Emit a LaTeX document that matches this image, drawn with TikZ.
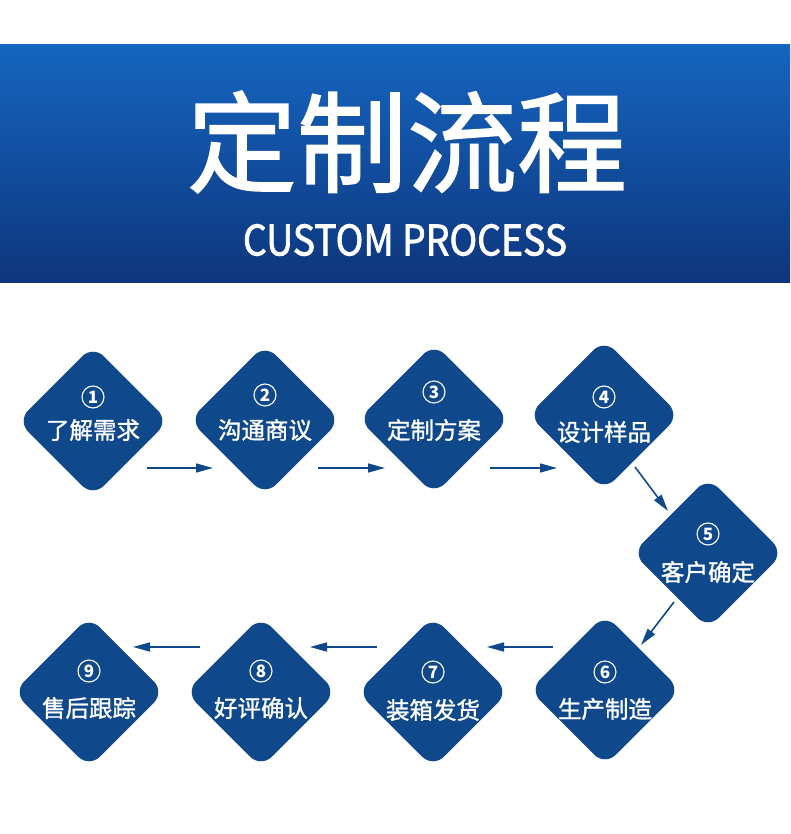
\documentclass[tikz,border=0pt]{standalone}
\usepackage{fontspec}
\usetikzlibrary{arrows.meta,shapes.geometric}
\newfontfamily\cjk{Noto Sans CJK SC}
\newfontfamily\cjkm[FakeBold=1.2]{Noto Sans CJK SC}
\newfontfamily\cjkt[FakeBold=1.3]{Noto Sans CJK SC}
\newfontfamily\cjks[FakeBold=1.8]{Noto Sans CJK SC}
\definecolor{dblue}{RGB}{15,73,140}
\definecolor{btop}{RGB}{21,101,192}
\definecolor{bbot}{RGB}{14,54,125}
\begin{document}
\begin{tikzpicture}[x=1pt,y=-1pt,
  dia/.style={shape=diamond, fill=dblue, draw=none, minimum width=151pt, minimum height=151pt, inner sep=0pt, outer sep=0pt, aspect=1, rounded corners=15pt},
  num/.style={circle, draw=white, line width=1.1pt, minimum size=22pt, inner sep=0pt, text=white, font=\cjk\bfseries\fontsize{17}{17}\selectfont},
  lbl/.style={text=white, inner sep=0pt, font=\cjkm\fontsize{23.5}{24}\selectfont},
  arr/.style={draw=dblue, line width=1.6pt, -{Triangle[length=17pt,width=9pt]}}]
\useasboundingbox (0,0) rectangle (790,834);
\fill[white] (0,0) rectangle (790,834);
% banner
\shade[top color=btop, bottom color=bbot] (0,45) rectangle (790,282);
\node[text=white, inner sep=0pt, font=\cjkt\fontsize{110}{110}\selectfont] (title) at (407,142) {定制流程};
\node[text=white, inner sep=0pt, xscale=0.89, font=\cjks\fontsize{42}{42}\selectfont] (sub) at (405,240) {CUSTOM PROCESS};
% diamonds
\node[dia] (d1) at (93,421) {};
\node[dia] (d2) at (265,420) {};
\node[dia] (d3) at (434,419) {};
\node[dia] (d4) at (604,415) {};
\node[dia] (d5) at (708,553) {};
\node[dia] (d6) at (605,690) {};
\node[dia] (d7) at (433,692) {};
\node[dia] (d8) at (261,692) {};
\node[dia] (d9) at (89,692) {};
% numbers and labels
\node[num] (n1) at (93,397) {1};
\node[lbl] (t1) at (93,430) {了解需求};
\node[num] (n2) at (265,395) {2};
\node[lbl] (t2) at (265,430) {沟通商议};
\node[num] (n3) at (434,392) {3};
\node[lbl] (t3) at (434,430) {定制方案};
\node[num] (n4) at (604,397) {4};
\node[lbl] (t4) at (604,432) {设计样品};
\node[num] (n5) at (708,534) {5};
\node[lbl] (t5) at (708,572) {客户确定};
\node[num] (n6) at (605,672) {6};
\node[lbl] (t6) at (605,709) {生产制造};
\node[num] (n7) at (433,672) {7};
\node[lbl] (t7) at (433,710) {装箱发货};
\node[num] (n8) at (261,671) {8};
\node[lbl] (t8) at (261,708) {好评确认};
\node[num] (n9) at (89,671) {9};
\node[lbl] (t9) at (89,708) {售后跟踪};
% arrow end points
\coordinate (a1s) at (147,468); \coordinate (a1e) at (213,468);
\coordinate (a2s) at (318,468); \coordinate (a2e) at (385,468);
\coordinate (a3s) at (490,468); \coordinate (a3e) at (557,468);
\coordinate (a4s) at (635,467); \coordinate (a4e) at (668,511);
\coordinate (a5s) at (674,602); \coordinate (a5e) at (641,645);
\coordinate (a6s) at (553,647); \coordinate (a6e) at (487,647);
\coordinate (a7s) at (377,647); \coordinate (a7e) at (310,647);
\coordinate (a8s) at (200,647); \coordinate (a8e) at (133,647);
\draw[arr] (a1s) -- (a1e);
\draw[arr] (a2s) -- (a2e);
\draw[arr] (a3s) -- (a3e);
\draw[arr] (a4s) -- (a4e);
\draw[arr] (a5s) -- (a5e);
\draw[arr] (a6s) -- (a6e);
\draw[arr] (a7s) -- (a7e);
\draw[arr] (a8s) -- (a8e);
\end{tikzpicture}
\end{document}
